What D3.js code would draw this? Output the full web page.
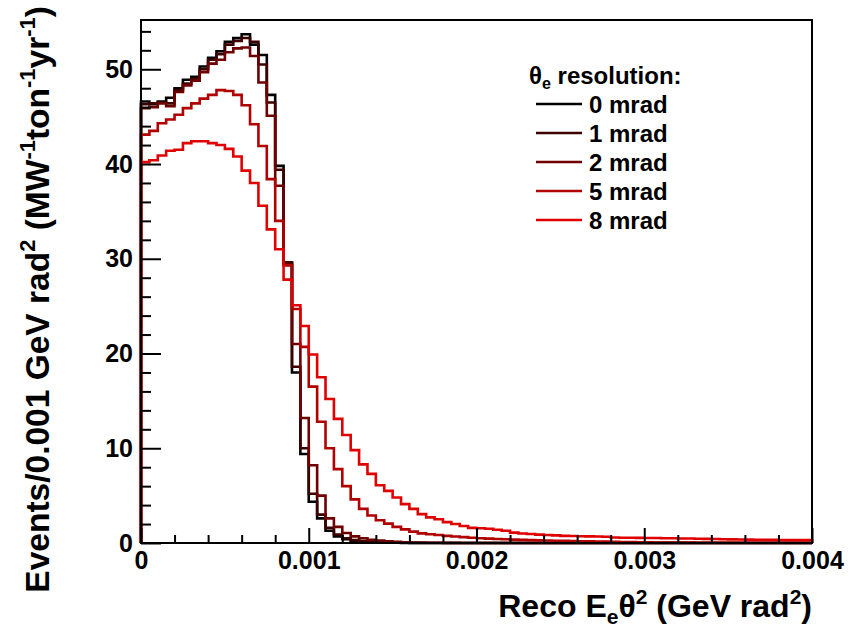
<!DOCTYPE html>
<html><head><meta charset="utf-8">
<script src="https://cdn.jsdelivr.net/npm/d3@7"></script>
<style>
body{margin:0;background:#fff;}
svg text{font-family:"Liberation Sans",Arial,Helvetica,sans-serif;font-weight:bold;fill:#000;}
</style></head><body>
<svg id="c" width="863" height="627"></svg>
<script>
// ---- data ----
const binWidth = 0.00005;
const nBins = 80;
const seriesNames = ["0 mrad", "1 mrad", "2 mrad", "5 mrad", "8 mrad"];
const seriesColors = ["#000000", "#3c0000", "#6e0000", "#b00000", "#e00000"];
const mrad0 = [46.6,46.3,46.6,47.0,48.0,48.9,49.2,50.3,51.2,51.9,
  52.9,53.3,53.7,52.6,51.5,47.3,39.8,29.6,18.0,9.4,
  4.35,2.6,1.3,0.7,0.4,0.25,0.15,0.1,0.05,0.03,
  0.02,0.01,0,0,0,0,0,0,0,0,
  0,0,0,0,0,0,0,0,0,0, 0,0,0,0,0,0,0,0,0,0,
  0,0,0,0,0,0,0,0,0,0, 0,0,0,0,0,0,0,0,0,0];
const mrad1 = [46.3,46.4,46.5,46.4,47.8,48.5,49.0,50.0,51.0,51.6,
  52.6,53.0,53.3,52.9,50.5,46.5,39.4,29.6,18.6,10.0,
  5.2,3.0,1.6,0.9,0.5,0.3,0.2,0.12,0.08,0.05,
  0.03,0.02,0.01,0,0,0,0,0,0,0,
  0,0,0,0,0,0,0,0,0,0, 0,0,0,0,0,0,0,0,0,0,
  0,0,0,0,0,0,0,0,0,0, 0,0,0,0,0,0,0,0,0,0];
const mrad2 = [45.9,46.0,46.4,46.1,47.6,48.3,48.8,49.7,50.6,51.0,
  51.8,52.2,52.3,51.4,48.6,45.1,37.7,29.4,21.0,13.2,
  8.2,5.0,2.6,1.7,1.05,0.7,0.5,0.35,0.25,0.18,
  0.12,0.08,0.06,0.04,0.03,0.02,0.01,0.01,0,0,
  0,0,0,0,0,0,0,0,0,0, 0,0,0,0,0,0,0,0,0,0,
  0,0,0,0,0,0,0,0,0,0, 0,0,0,0,0,0,0,0,0,0];
const mrad5 = [43.1,43.5,44.3,44.7,45.2,45.9,46.4,46.9,47.3,47.8,
  47.7,47.3,46.2,44.2,41.9,38.4,34.0,29.3,24.7,20.7,
  16.5,12.8,10.0,7.8,6.0,4.6,3.6,2.9,2.4,2.05,
  1.7,1.44,1.2,1.02,0.92,0.84,0.75,0.68,0.62,0.56,
  0.5,0.46,0.42,0.4,0.36,0.33,0.3,0.28,0.26,0.24,
  0.22,0.2,0.18,0.17,0.16,0.15,0.12,0.1,0.09,0.08,
  0.07,0.06,0.05,0.05,0.04,0.04,0.03,0.03,0.03,0.02,
  0.02,0.02,0.02,0.02,0.02,0.02,0.02,0.02,0.02,0.02];
const mrad8 = [40.2,40.4,40.9,41.4,41.5,42.2,42.4,42.4,42.2,42.0,
  41.6,40.8,39.3,38.0,35.6,33.1,31.0,27.8,25.1,22.9,
  19.9,17.5,15.2,13.1,11.4,9.8,8.3,7.3,6.1,5.5,
  4.8,4.1,3.6,3.05,2.7,2.5,2.2,2.0,1.8,1.6,
  1.55,1.5,1.4,1.3,1.1,1.0,0.95,0.88,0.85,0.8,
  0.75,0.74,0.72,0.7,0.68,0.66,0.58,0.56,0.55,0.54,
  0.53,0.52,0.5,0.5,0.48,0.47,0.45,0.44,0.43,0.4,
  0.38,0.37,0.36,0.35,0.34,0.33,0.32,0.31,0.3,0.3];
const xTickValues = [0, 0.001, 0.002, 0.003, 0.004];
const xTickLabels = ["0", "0.001", "0.002", "0.003", "0.004"];
const xMinorTicks = [0.0002,0.0004,0.0006,0.0008,0.0012,0.0014,0.0016,0.0018,
  0.0022,0.0024,0.0026,0.0028,0.0032,0.0034,0.0036,0.0038];
const yTickValues = [0, 10, 20, 30, 40, 50];
const yTickLabels = ["0", "10", "20", "30", "40", "50"];
const yMinorTicks = [2,4,6,8,12,14,16,18,22,24,26,28,32,34,36,38,42,44,46,48,52,54];
const xDomain = [0, 0.004];
const yDomain = [0, 55.2];
const legendTitle = "resolution:";

// ---- layout ----
const L = 141, R = 812, T = 20, B = 543;
const svg = d3.select("#c");
const x = d3.scaleLinear().domain(xDomain).range([L, R]);
const y = d3.scaleLinear().domain(yDomain).range([B, T]);

const allSeries = [mrad0, mrad1, mrad2, mrad5, mrad8];

function histPoints(vals) {
  const pts = [[0, 0]];
  vals.forEach((v, i) => { pts.push([i * binWidth, v]); pts.push([(i + 1) * binWidth, v]); });
  pts.push([nBins * binWidth, 0]);
  return pts;
}
const line = d3.line().x(d => x(d[0])).y(d => y(d[1]));

const plot = svg.append("g");
allSeries.forEach((vals, k) => {
  plot.append("path").attr("d", line(histPoints(vals)))
    .attr("fill", "none").attr("stroke", seriesColors[k])
    .attr("stroke-width", 2.6).attr("stroke-linejoin", "miter");
});

// axes
const fs = 25;
const xAxis = svg.append("g").attr("transform", `translate(0,${B})`)
  .call(d3.axisBottom(x).tickValues(xTickValues).tickFormat((d, i) => xTickLabels[i]).tickSize(-15).tickPadding(8));
const xMinor = svg.append("g").attr("transform", `translate(0,${B})`)
  .call(d3.axisBottom(x).tickValues(xMinorTicks).tickFormat("").tickSize(-8));
const yAxis = svg.append("g").attr("transform", `translate(${L},0)`)
  .call(d3.axisLeft(y).tickValues(yTickValues).tickFormat((d, i) => yTickLabels[i]).tickSize(-20).tickPadding(8));
const yMinor = svg.append("g").attr("transform", `translate(${L},0)`)
  .call(d3.axisLeft(y).tickValues(yMinorTicks).tickFormat("").tickSize(-10));
[xAxis, xMinor, yAxis, yMinor].forEach(g => {
  g.select(".domain").remove();
  g.selectAll("line").attr("stroke", "#000").attr("stroke-width", 2);
  g.selectAll("text").attr("font-size", fs).attr("font-family", "Liberation Sans, Arial, sans-serif").attr("font-weight", "bold").attr("fill", "#000");
});

// frame
svg.append("rect").attr("x", L).attr("y", T).attr("width", R - L).attr("height", B - T)
  .attr("fill", "none").attr("stroke", "#000").attr("stroke-width", 2);

// axis titles
const tfs = 32;
const sfs = 21;
const xt = svg.append("text").attr("x", R).attr("y", 617).attr("text-anchor", "end").attr("font-size", tfs);
xt.append("tspan").text("Reco E");
xt.append("tspan").attr("font-size", sfs).attr("dy", 7).text("e");
xt.append("tspan").attr("dy", -7).text("θ");
xt.append("tspan").attr("font-size", sfs).attr("dy", -13).text("2");
xt.append("tspan").attr("dy", 13).text(" (GeV rad");
xt.append("tspan").attr("font-size", sfs).attr("dy", -13).text("2");
xt.append("tspan").attr("dy", 13).text(")");

const ytfs = 33.5;
const ysfs = 22;
const yt = svg.append("text").attr("transform", "translate(49,6) rotate(-90)").attr("text-anchor", "end").attr("font-size", ytfs);
yt.append("tspan").text("Events/0.001 GeV rad");
yt.append("tspan").attr("font-size", ysfs).attr("dy", -14).text("2");
yt.append("tspan").attr("dy", 14).text(" (MW");
yt.append("tspan").attr("font-size", ysfs).attr("dy", -14).text("-1");
yt.append("tspan").attr("dy", 14).text("ton");
yt.append("tspan").attr("font-size", ysfs).attr("dy", -14).text("-1");
yt.append("tspan").attr("dy", 14).text("yr");
yt.append("tspan").attr("font-size", ysfs).attr("dy", -14).text("-1");
yt.append("tspan").attr("dy", 14).text(")");

// legend
const lfs = 24;
const lt = svg.append("text").attr("x", 529).attr("y", 84).attr("font-size", lfs);
lt.append("tspan").text("θ");
lt.append("tspan").attr("font-size", 16).attr("dy", 5).text("e");
lt.append("tspan").attr("dy", -5).text(" " + legendTitle);
const rowY = d3.scaleLinear().domain([0, 4]).range([104, 220]);
seriesNames.forEach((name, k) => {
  const yy = rowY(k);
  svg.append("line").attr("x1", 536).attr("x2", 582).attr("y1", yy).attr("y2", yy)
    .attr("stroke", seriesColors[k]).attr("stroke-width", 2.6);
  svg.append("text").attr("x", 589).attr("y", yy + 8.5).attr("font-size", lfs).text(name);
});
</script>
</body></html>
